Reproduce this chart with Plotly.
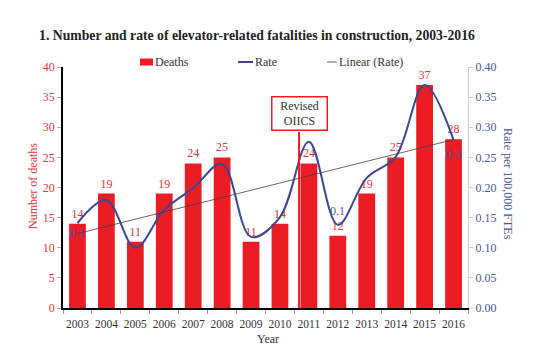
import numpy as np
import plotly.graph_objects as go

years = ["2003", "2004", "2005", "2006", "2007", "2008", "2009",
         "2010", "2011", "2012", "2013", "2014", "2015", "2016"]
deaths = [14, 19, 11, 19, 24, 25, 11, 14, 24, 12, 19, 25, 37, 28]
rates = [0.141, 0.179, 0.100, 0.163, 0.199, 0.239, 0.118,
         0.151, 0.276, 0.138, 0.216, 0.251, 0.370, 0.279]
rate_labels = {"2003": "0.1", "2012": "0.1", "2016": "0.3"}
left_ticks = [0, 5, 10, 15, 20, 25, 30, 35, 40]
right_ticks = [0, 0.05, 0.10, 0.15, 0.20, 0.25, 0.30, 0.35, 0.40]

idx = list(range(len(years)))
coef = np.polyfit(idx, rates, 1)
trend = [float(v) for v in np.polyval(coef, idx)]

RED = "#EC1C24"
RED_TXT = "#E0353D"
BLUE = "#3A4894"
BLUE_TXT = "#4A5799"
FONT = "Liberation Serif"

# page is offset by the 8px body margin
OFF = 8
W, H = 544 - OFF, 359 - OFF
# plot area in page pixels
L, R, T, B = 63, 468, 67, 308


def px(x):
    return (x - L) / (R - L)


def py(y):
    return (B - y) / (B - T)


fig = go.Figure()
fig.add_trace(go.Bar(
    x=idx, y=deaths, name="Deaths", marker_color=RED, marker_line_width=0,
    text=[str(d) for d in deaths], textposition="outside",
    textfont=dict(color=RED_TXT, size=12, family=FONT), cliponaxis=False,
    showlegend=False,
))
fig.add_trace(go.Scatter(
    x=idx, y=rates, name="Rate", yaxis="y2", mode="lines",
    line=dict(color=BLUE, width=2, shape="spline", smoothing=1.0),
    showlegend=False,
))
fig.add_trace(go.Scatter(
    x=idx, y=trend, name="Linear (Rate)", yaxis="y2", mode="lines",
    line=dict(color="#404040", width=0.8), showlegend=False,
))

shifts = {"2003": -10, "2012": 14, "2016": -14}
for yr, lab in rate_labels.items():
    i = years.index(yr)
    fig.add_annotation(x=i, y=rates[i], xref="x", yref="y2", text=lab,
                       showarrow=False, yshift=shifts[yr],
                       xanchor="center", yanchor="middle",
                       font=dict(color=BLUE_TXT, size=12, family=FONT))

# Revised OIICS marker
fig.add_shape(type="line", x0=7.66, x1=7.66, y0=0, y1=29.2, xref="x", yref="y",
              line=dict(color=RED, width=2))
fig.add_annotation(x=7.66, y=32.2, xref="x", yref="y", text="Revised<br>OIICS",
                   showarrow=False, bgcolor="white", bordercolor=RED,
                   borderwidth=1.5, borderpad=2, width=50, height=28,
                   xanchor="center", yanchor="middle",
                   font=dict(color="#333333", size=12, family=FONT))

# manual legend
ly = py(62)
fig.add_shape(type="rect", xref="paper", yref="paper", x0=px(140), x1=px(153),
              y0=py(65.5), y1=py(58.5), fillcolor=RED, line_width=0)
fig.add_annotation(xref="paper", yref="paper", x=px(153), y=ly, text="Deaths",
                   showarrow=False, xanchor="left", yanchor="middle",
                   font=dict(color="#333333", size=12, family=FONT))
fig.add_shape(type="line", xref="paper", yref="paper", x0=px(238), x1=px(253),
              y0=ly, y1=ly, line=dict(color=BLUE, width=2))
fig.add_annotation(xref="paper", yref="paper", x=px(253), y=ly, text="Rate",
                   showarrow=False, xanchor="left", yanchor="middle",
                   font=dict(color="#333333", size=12, family=FONT))
fig.add_shape(type="line", xref="paper", yref="paper", x0=px(327), x1=px(337),
              y0=ly, y1=ly, line=dict(color="#9a9a9a", width=1.5))
fig.add_annotation(xref="paper", yref="paper", x=px(337), y=ly, text="Linear (Rate)",
                   showarrow=False, xanchor="left", yanchor="middle",
                   font=dict(color="#333333", size=12, family=FONT))

# axis titles
fig.add_annotation(xref="paper", yref="paper", x=px(33), y=py(186),
                   text="Number of deaths", textangle=-90, showarrow=False,
                   xanchor="center", yanchor="middle",
                   font=dict(color=RED_TXT, size=12, family=FONT))
fig.add_annotation(xref="paper", yref="paper", x=px(508), y=py(184),
                   text="Rate per 100,000 FTEs", textangle=90, showarrow=False,
                   xanchor="center", yanchor="middle",
                   font=dict(color=BLUE_TXT, size=12, family=FONT))
fig.add_annotation(xref="paper", yref="paper", x=px(268), y=py(339),
                   text="Year", showarrow=False,
                   xanchor="center", yanchor="middle",
                   font=dict(color="#333333", size=12, family=FONT))

fig.update_layout(
    width=W, height=H,
    margin=dict(l=L - OFF, r=544 - R, t=T - OFF, b=359 - B, pad=0),
    paper_bgcolor="white", plot_bgcolor="white",
    bargap=0.42,
    font=dict(family=FONT, size=12, color="#333333"),
    title=dict(text="<b>1. Number and rate of elevator-related fatalities in construction, 2003-2016</b>",
               x=(257 - OFF) / W, xanchor="center", y=1 - (35 - OFF) / H, yanchor="middle",
               font=dict(size=13.7, color="#222222", family=FONT)),
    xaxis=dict(range=[-0.5, 13.5], tickvals=idx, ticktext=years, ticks="",
               showline=True, linecolor="black", linewidth=1.5,
               minor=dict(tickvals=[i - 0.5 for i in range(len(years) + 1)],
                          ticks="outside", ticklen=4, tickcolor="#999999"),
               ticklabelstandoff=4,
               tickfont=dict(size=11.5, color="#333333", family=FONT),
               showgrid=False, zeroline=False),
    yaxis=dict(range=[0, 40], tickvals=left_ticks, showline=True, linecolor="black",
               linewidth=1.5, ticks="outside", ticklen=4, tickcolor="#aaaaaa",
               showgrid=False, zeroline=False,
               tickfont=dict(size=12, color=RED_TXT, family=FONT)),
    yaxis2=dict(range=[0, 0.40], tickvals=right_ticks, tickformat=".2f",
                overlaying="y", side="right", showline=True, linecolor="#c9cce3",
                linewidth=1.2, ticks="outside", ticklen=4, tickcolor="#c9cce3",
                showgrid=False, zeroline=False,
                tickfont=dict(size=12, color=BLUE_TXT, family=FONT)),
    showlegend=False,
)

fig.write_html("out.html")
